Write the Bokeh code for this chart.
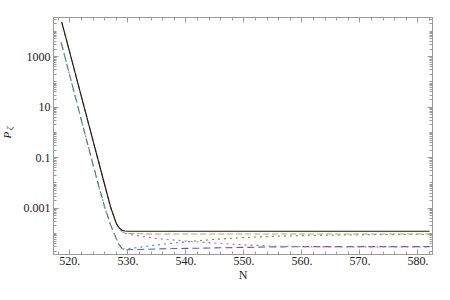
from math import pi
from bokeh.plotting import figure
from bokeh.layouts import row
from bokeh.core.properties import value
from bokeh.models import FixedTicker, LogAxis, LinearAxis, Range1d, CustomJSTickFormatter
from bokeh.embed import file_html
from bokeh.resources import INLINE

# ---- data ----
N_up = [518.6, 519, 520, 521, 522, 523, 524, 525, 526, 527, 528, 528.5, 529, 529.5,
        530, 532, 535, 540, 545, 550, 555, 560, 570, 582]
P_black = [2.29e4, 1.05e4, 1.41e3, 191, 25.7, 3.47, 0.468, 0.0631, 8.51e-3, 1.15e-3,
           2.51e-4, 1.66e-4, 1.35e-4, 1.26e-4, 1.23e-4, 1.23e-4, 1.23e-4, 1.23e-4,
           1.23e-4, 1.23e-4, 1.23e-4, 1.23e-4, 1.23e-4, 1.23e-4]
P_tan = [2.29e4, 1.05e4, 1.41e3, 191, 25.7, 3.47, 0.468, 0.0631, 8.51e-3, 1.15e-3,
         2.51e-4, 1.58e-4, 1.17e-4, 1.05e-4, 1.0e-4, 9.8e-5, 9.55e-5, 9.55e-5,
         9.55e-5, 9.55e-5, 9.55e-5, 9.55e-5, 9.55e-5, 9.55e-5]
P_pink = [2.29e4, 1.05e4, 1.41e3, 191, 25.7, 3.47, 0.468, 0.0631, 8.51e-3, 1.15e-3,
          2.51e-4, 1.58e-4, 1.2e-4, 1.05e-4, 9.55e-5, 7.94e-5, 6.31e-5, 5.01e-5,
          4.17e-5, 3.55e-5, 3.16e-5, 3.02e-5, 2.95e-5, 2.95e-5]

N_lo = [518.5, 519, 520, 521, 522, 523, 524, 525, 526, 527, 528, 528.5, 529, 529.5,
        530, 532, 535, 540, 545, 550, 555, 560, 570, 582]
P_blue = [3630, 1320, 174, 22.9, 3.02, 0.398, 0.0525, 7.24e-3, 1.12e-3, 2.24e-4,
          6.31e-5, 3.55e-5, 2.51e-5, 2.29e-5, 2.29e-5, 2.34e-5, 2.45e-5, 2.57e-5,
          2.69e-5, 2.82e-5, 2.95e-5, 3.02e-5, 3.02e-5, 3.02e-5]
P_green = [3630, 1320, 174, 22.9, 3.02, 0.398, 0.0525, 7.24e-3, 1.12e-3, 2.24e-4,
           6.31e-5, 3.55e-5, 2.51e-5, 2.4e-5, 2.51e-5, 2.82e-5, 3.55e-5, 4.68e-5,
           5.89e-5, 6.92e-5, 7.76e-5, 8.32e-5, 8.91e-5, 9.33e-5]

x_ticks = [520, 530, 540, 550, 560, 570, 580]
x_minor = [518, 522, 524, 526, 528, 532, 534, 536, 538, 542, 544, 546, 548, 552, 554,
           556, 558, 562, 564, 566, 568, 572, 574, 576, 578, 582]
y_ticks = [0.001, 0.1, 10, 1000]
y_minor = [m * 10.0 ** k for k in range(-6, 5) for m in range(1, 10)]

y_label_main = "P"
y_label_sub = "ζ"
x_label = "N"

FONT = "Liberation Serif"
AX = "#9a9a9a"
TXT = "#222222"

# narrow strip holding the rotated y label P_ζ
lab = figure(width=14, height=284, x_range=Range1d(0, 14), y_range=Range1d(284, 0),
             output_backend="svg", toolbar_location=None,
             x_axis_location=None, y_axis_location=None,
             min_border_left=0, min_border_right=0, min_border_top=0, min_border_bottom=0)
lab.xgrid.visible = False
lab.ygrid.visible = False
lab.outline_line_color = None
lab.text(x=[6], y=[141], text=[y_label_main], angle=pi / 2, text_align="center",
         text_baseline="middle", text_font=value(FONT), text_font_style="italic",
         text_font_size="11px", text_color=TXT)
lab.text(x=[10], y=[133], text=[y_label_sub], angle=pi / 2, text_align="center",
         text_baseline="middle", text_font=value(FONT), text_font_style="italic",
         text_font_size="8px", text_color=TXT)

p = figure(width=420, height=284,
           x_range=Range1d(517.18, 582.5),
           y_range=Range1d(1.476e-5, 3.54e4),
           y_axis_type="log",
           output_backend="svg", toolbar_location=None,
           min_border_left=39, min_border_right=2,
           min_border_top=17, min_border_bottom=29)
p.xgrid.visible = False
p.ygrid.visible = False
p.outline_line_color = AX
p.background_fill_color = "white"
p.border_fill_color = "white"

xfmt = CustomJSTickFormatter(code="return tick.toFixed(0) + '.';")
yfmt = CustomJSTickFormatter(code="return tick >= 1 ? tick.toFixed(0) : String(tick);")
blank = CustomJSTickFormatter(code="return '';")

def style(ax, labels=True):
    ax.axis_line_color = AX
    ax.major_tick_line_color = AX
    ax.minor_tick_line_color = AX
    ax.major_tick_in = 5
    ax.major_tick_out = 0
    ax.minor_tick_in = 3
    ax.minor_tick_out = 0
    ax.major_label_text_font = FONT
    ax.major_label_text_font_size = "12px" if labels else "0px"
    ax.major_label_text_color = TXT
    ax.major_label_standoff = 3 if labels else 0

p.xaxis.ticker = FixedTicker(ticks=x_ticks, minor_ticks=x_minor)
p.xaxis.formatter = xfmt
style(p.xaxis[0])
p.xaxis.major_label_standoff = 2
p.xaxis.axis_label = x_label
p.xaxis.axis_label_text_font = FONT
p.xaxis.axis_label_text_font_style = "normal"
p.xaxis.axis_label_text_font_size = "12px"
p.xaxis.axis_label_text_color = TXT
p.xaxis.axis_label_standoff = 0

p.yaxis.ticker = FixedTicker(ticks=y_ticks, minor_ticks=y_minor)
p.yaxis.formatter = yfmt
style(p.yaxis[0])

ra = LogAxis(ticker=FixedTicker(ticks=y_ticks, minor_ticks=y_minor), formatter=blank)
style(ra, labels=False)
p.add_layout(ra, "right")
ta = LinearAxis(ticker=FixedTicker(ticks=x_ticks, minor_ticks=x_minor), formatter=blank)
style(ta, labels=False)
p.add_layout(ta, "above")

p.line(N_lo, P_blue, line_color="#5b5bb6", line_width=1.1, line_dash="7 4")
p.line(N_lo, P_green, line_color="#5aad5a", line_width=1.3, line_dash="2 4")
p.line(N_up, P_pink, line_color="#d46aae", line_width=1.3, line_dash="2 4")
p.line(N_up, P_tan, line_color="#c2a35e", line_width=1.1, line_dash="6 3")
p.line(N_up, P_black, line_color="#1a1a1a", line_width=1.1)

layout = row(lab, p, spacing=0)
open("out.html", "w").write(file_html(layout, INLINE))
